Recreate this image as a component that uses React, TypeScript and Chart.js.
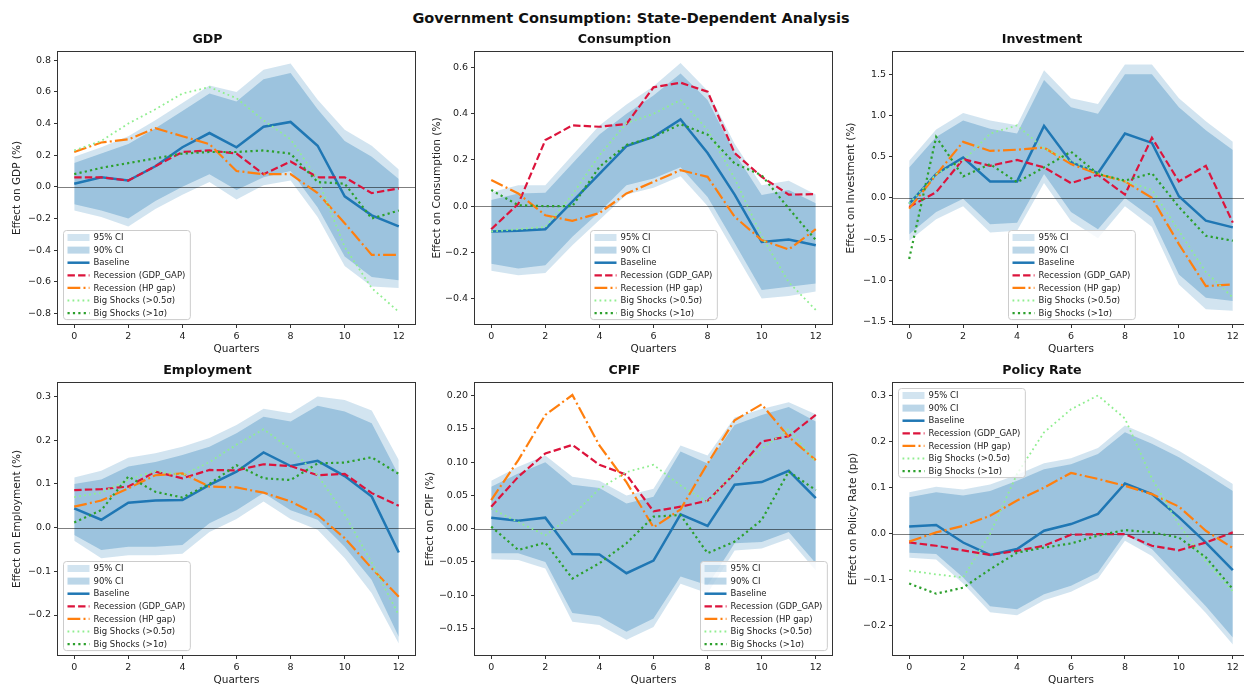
import { useEffect, useRef } from 'react';
import { Chart, registerables } from 'chart.js';

Chart.register(...registerables);
Chart.defaults.font.family = '"DejaVu Sans", sans-serif';
Chart.defaults.color = '#222';

// ---- Horizon and axis ticks ----
const QUARTERS = [0, 1, 2, 3, 4, 5, 6, 7, 8, 9, 10, 11, 12];
const QUARTER_TICKS = [0, 2, 4, 6, 8, 10, 12];
const X_MIN = -0.6;
const X_MAX = 12.6;

// ---- GDP ----
const GDP_BASELINE = [0.02, 0.06, 0.04, 0.13, 0.25, 0.34, 0.25, 0.38, 0.41, 0.26, -0.06, -0.18, -0.25];
const GDP_REC_GAP = [0.06, 0.06, 0.04, 0.13, 0.22, 0.23, 0.21, 0.08, 0.16, 0.06, 0.06, -0.04, -0.01];
const GDP_REC_HP = [0.22, 0.28, 0.30, 0.37, 0.32, 0.27, 0.10, 0.08, 0.08, -0.04, -0.23, -0.43, -0.43];
const GDP_BIG_05 = [0.23, 0.29, 0.40, 0.49, 0.59, 0.63, 0.56, 0.42, 0.30, 0.05, -0.38, -0.64, -0.79];
const GDP_BIG_1 = [0.08, 0.12, 0.15, 0.18, 0.21, 0.22, 0.22, 0.23, 0.21, 0.03, 0.02, -0.20, -0.15];
const GDP_CI90_UP = [0.15, 0.21, 0.27, 0.37, 0.48, 0.59, 0.54, 0.68, 0.72, 0.49, 0.29, 0.19, 0.05];
const GDP_CI90_LO = [-0.11, -0.15, -0.20, -0.09, 0.00, 0.08, -0.02, 0.06, 0.10, -0.13, -0.44, -0.57, -0.59];
const GDP_CI95_UP = [0.19, 0.25, 0.32, 0.42, 0.53, 0.64, 0.60, 0.74, 0.78, 0.55, 0.36, 0.26, 0.11];
const GDP_CI95_LO = [-0.15, -0.19, -0.25, -0.14, -0.05, 0.03, -0.08, 0.01, 0.04, -0.19, -0.50, -0.63, -0.64];
const GDP_TICKS = [-0.8, -0.6, -0.4, -0.2, 0, 0.2, 0.4, 0.6, 0.8];

// ---- Consumption ----
const CON_BASELINE = [-0.11, -0.107, -0.10, 0.02, 0.14, 0.26, 0.30, 0.376, 0.23, 0.05, -0.155, -0.145, -0.17];
const CON_REC_GAP = [-0.10, 0.01, 0.286, 0.35, 0.344, 0.356, 0.515, 0.535, 0.496, 0.23, 0.127, 0.05, 0.052];
const CON_REC_HP = [0.113, 0.055, -0.04, -0.064, -0.03, 0.055, 0.105, 0.156, 0.127, -0.046, -0.147, -0.188, -0.10];
const CON_BIG_05 = [-0.11, -0.10, -0.09, 0.05, 0.22, 0.36, 0.40, 0.46, 0.33, 0.12, -0.13, -0.33, -0.45];
const CON_BIG_1 = [0.07, 0.004, 0.0, 0.0, 0.17, 0.265, 0.30, 0.355, 0.31, 0.185, 0.134, -0.01, -0.147];
const CON_CI90_UP = [0.026, 0.055, 0.058, 0.185, 0.31, 0.40, 0.48, 0.575, 0.46, 0.23, 0.048, 0.07, 0.012];
const CON_CI90_LO = [-0.25, -0.27, -0.256, -0.133, -0.025, 0.09, 0.12, 0.168, 0.04, -0.16, -0.364, -0.35, -0.335];
const CON_CI95_UP = [0.06, 0.09, 0.09, 0.22, 0.35, 0.44, 0.52, 0.62, 0.50, 0.27, 0.09, 0.11, 0.05];
const CON_CI95_LO = [-0.28, -0.30, -0.29, -0.17, -0.06, 0.05, 0.08, 0.13, 0.00, -0.20, -0.40, -0.39, -0.37];
const CON_TICKS = [-0.4, -0.2, 0, 0.2, 0.4, 0.6];

// ---- Investment ----
const INV_BASELINE = [-0.073, 0.29, 0.49, 0.20, 0.20, 0.874, 0.435, 0.30, 0.78, 0.667, 0.02, -0.276, -0.358];
const INV_REC_GAP = [-0.11, 0.07, 0.47, 0.39, 0.46, 0.37, 0.18, 0.28, 0.04, 0.73, 0.20, 0.39, -0.30];
const INV_REC_HP = [-0.13, 0.28, 0.68, 0.57, 0.585, 0.61, 0.41, 0.29, 0.20, 0.0, -0.56, -1.07, -1.05];
const INV_BIG_05 = [-0.07, 0.29, 0.45, 0.78, 0.88, 0.60, 0.45, 0.30, 0.20, 0.10, -0.40, -0.90, -1.21];
const INV_BIG_1 = [-0.74, 0.74, 0.26, 0.41, 0.19, 0.37, 0.56, 0.29, 0.21, 0.30, -0.11, -0.46, -0.52];
const INV_CI90_UP = [0.37, 0.74, 0.94, 0.84, 0.78, 1.43, 1.10, 1.02, 1.50, 1.50, 1.10, 0.82, 0.58];
const INV_CI90_LO = [-0.44, -0.17, -0.01, -0.32, -0.30, 0.29, -0.17, -0.38, 0.0, -0.24, -0.93, -1.21, -1.25];
const INV_CI95_UP = [0.45, 0.83, 1.03, 0.94, 0.88, 1.55, 1.21, 1.14, 1.62, 1.62, 1.21, 0.93, 0.68];
const INV_CI95_LO = [-0.52, -0.26, -0.10, -0.42, -0.40, 0.18, -0.28, -0.49, -0.10, -0.35, -1.05, -1.35, -1.37];
const INV_TICKS = [-1.5, -1.0, -0.5, 0, 0.5, 1.0, 1.5];

// ---- Employment ----
const EMP_BASELINE = [0.044, 0.018, 0.057, 0.062, 0.063, 0.098, 0.128, 0.172, 0.141, 0.153, 0.118, 0.071, -0.057];
const EMP_REC_GAP = [0.086, 0.088, 0.094, 0.128, 0.113, 0.132, 0.131, 0.145, 0.141, 0.12, 0.123, 0.079, 0.05];
const EMP_REC_HP = [0.048, 0.062, 0.09, 0.12, 0.124, 0.094, 0.092, 0.08, 0.06, 0.029, -0.024, -0.093, -0.158];
const EMP_BIG_05 = [0.07, 0.08, 0.11, 0.13, 0.12, 0.15, 0.19, 0.225, 0.18, 0.12, 0.03, -0.08, -0.20];
const EMP_BIG_1 = [0.012, 0.04, 0.117, 0.082, 0.069, 0.10, 0.143, 0.113, 0.109, 0.147, 0.149, 0.161, 0.123];
const EMP_CI90_UP = [0.10, 0.11, 0.14, 0.15, 0.166, 0.185, 0.216, 0.254, 0.243, 0.279, 0.266, 0.239, 0.12];
const EMP_CI90_LO = [-0.017, -0.051, -0.044, -0.044, -0.04, 0.01, 0.04, 0.079, 0.04, 0.018, -0.044, -0.12, -0.25];
const EMP_CI95_UP = [0.115, 0.13, 0.16, 0.17, 0.185, 0.205, 0.235, 0.272, 0.262, 0.30, 0.292, 0.268, 0.155];
const EMP_CI95_LO = [-0.03, -0.07, -0.063, -0.063, -0.06, -0.01, 0.02, 0.06, 0.02, -0.005, -0.07, -0.15, -0.265];
const EMP_TICKS = [-0.2, -0.1, 0, 0.1, 0.2, 0.3];

// ---- CPIF ----
const CPI_BASELINE = [0.0165, 0.012, 0.0165, -0.038, -0.039, -0.067, -0.048, 0.0215, 0.004, 0.066, 0.07, 0.087, 0.046];
const CPI_REC_GAP = [0.033, 0.078, 0.113, 0.126, 0.096, 0.081, 0.026, 0.033, 0.042, 0.083, 0.131, 0.139, 0.171];
const CPI_REC_HP = [0.043, 0.103, 0.171, 0.201, 0.125, 0.07, 0.002, 0.029, 0.098, 0.163, 0.187, 0.138, 0.103];
const CPI_BIG_05 = [0.03, 0.01, -0.01, 0.02, 0.06, 0.085, 0.096, 0.065, 0.04, 0.085, 0.12, 0.15, 0.10];
const CPI_BIG_1 = [0.003, -0.032, -0.021, -0.075, -0.052, -0.022, 0.018, 0.0205, -0.037, -0.0195, 0.013, 0.086, 0.058];
const CPI_CI90_UP = [0.063, 0.083, 0.10, 0.066, 0.061, 0.038, 0.048, 0.116, 0.098, 0.156, 0.171, 0.183, 0.161];
const CPI_CI90_LO = [-0.037, -0.037, -0.05, -0.127, -0.132, -0.155, -0.135, -0.072, -0.085, -0.022, -0.02, -0.005, -0.052];
const CPI_CI95_UP = [0.072, 0.093, 0.11, 0.078, 0.072, 0.05, 0.06, 0.125, 0.11, 0.167, 0.18, 0.19, 0.172];
const CPI_CI95_LO = [-0.046, -0.047, -0.06, -0.14, -0.145, -0.167, -0.148, -0.083, -0.097, -0.033, -0.03, -0.015, -0.063];
const CPI_TICKS = [-0.15, -0.1, -0.05, 0, 0.05, 0.1, 0.15, 0.2];

// ---- Policy rate ----
const POL_BASELINE = [0.016, 0.019, -0.019, -0.046, -0.033, 0.0065, 0.021, 0.043, 0.109, 0.086, 0.036, -0.019, -0.079];
const POL_REC_GAP = [-0.019, -0.026, -0.036, -0.046, -0.037, -0.026, -0.002, -0.001, -0.001, -0.026, -0.036, -0.019, 0.003];
const POL_REC_HP = [-0.017, 0.003, 0.017, 0.039, 0.072, 0.10, 0.132, 0.119, 0.104, 0.086, 0.059, 0.0065, -0.031];
const POL_BIG_05 = [-0.08, -0.088, -0.095, 0.0, 0.13, 0.22, 0.27, 0.30, 0.25, 0.12, 0.02, -0.06, -0.125];
const POL_BIG_1 = [-0.108, -0.13, -0.117, -0.077, -0.041, -0.03, -0.021, -0.004, 0.008, 0.003, -0.008, -0.051, -0.12];
const POL_CI90_UP = [0.079, 0.09, 0.083, 0.093, 0.115, 0.14, 0.151, 0.173, 0.22, 0.195, 0.166, 0.13, 0.093];
const POL_CI90_LO = [-0.041, -0.044, -0.095, -0.157, -0.164, -0.131, -0.113, -0.084, -0.001, -0.033, -0.095, -0.157, -0.225];
const POL_CI95_UP = [0.09, 0.102, 0.096, 0.107, 0.128, 0.153, 0.164, 0.186, 0.235, 0.21, 0.18, 0.145, 0.108];
const POL_CI95_LO = [-0.052, -0.056, -0.108, -0.17, -0.177, -0.144, -0.126, -0.097, -0.015, -0.048, -0.11, -0.172, -0.24];
const POL_TICKS = [-0.2, -0.1, 0, 0.1, 0.2, 0.3];

// ---- Styling ----
const BLUE = '#1f77b4';
const RED = '#dc143c';
const ORANGE = '#ff7f0e';
const LIGHT_GREEN = '#90ee90';
const GREEN = '#2ca02c';
const CI95_FILL = 'rgba(31,119,180,0.2)';
const CI90_FILL = 'rgba(31,119,180,0.3)';

const AXIS_W = 58; // room for y ticks + y title (mirrored on the right so titles centre on the plot)
const TITLE_H = 32;
const XAXIS_H = 34;
const BASELINE_INDEX = 4;

type LegendLoc = 'lower left' | 'lower center' | 'lower right' | 'upper left';

type PanelSpec = {
  title: string;
  yLabel: string;
  baseline: number[];
  recGap: number[];
  recHp: number[];
  big05: number[];
  big1: number[];
  ci90Up: number[];
  ci90Lo: number[];
  ci95Up: number[];
  ci95Lo: number[];
  yTicks: number[];
  yMin: number;
  yMax: number;
  decimals: number;
  legendLoc: LegendLoc;
  plot: { left: number; top: number; right: number; bottom: number };
  yTitlePad: number;
};

const COLS = [
  { left: 58, right: 415 },
  { left: 475, right: 832 },
  { left: 893, right: 1249 },
];
const ROWS = [
  { top: 52, bottom: 324 },
  { top: 383, bottom: 655 },
];
const cell = (r: number, c: number) => ({ left: COLS[c].left, right: COLS[c].right, top: ROWS[r].top, bottom: ROWS[r].bottom });

const PANELS: PanelSpec[] = [
  {
    title: 'GDP', yLabel: 'Effect on GDP (%)',
    baseline: GDP_BASELINE, recGap: GDP_REC_GAP, recHp: GDP_REC_HP, big05: GDP_BIG_05, big1: GDP_BIG_1,
    ci90Up: GDP_CI90_UP, ci90Lo: GDP_CI90_LO, ci95Up: GDP_CI95_UP, ci95Lo: GDP_CI95_LO,
    yTicks: GDP_TICKS, yMin: -0.867, yMax: 0.852, decimals: 1,
    legendLoc: 'lower left', plot: cell(0, 0), yTitlePad: 10.5,
  },
  {
    title: 'Consumption', yLabel: 'Effect on Consumption (%)',
    baseline: CON_BASELINE, recGap: CON_REC_GAP, recHp: CON_REC_HP, big05: CON_BIG_05, big1: CON_BIG_1,
    ci90Up: CON_CI90_UP, ci90Lo: CON_CI90_LO, ci95Up: CON_CI95_UP, ci95Lo: CON_CI95_LO,
    yTicks: CON_TICKS, yMin: -0.511, yMax: 0.668, decimals: 1,
    legendLoc: 'lower center', plot: cell(0, 1), yTitlePad: 13.5,
  },
  {
    title: 'Investment', yLabel: 'Effect on Investment (%)',
    baseline: INV_BASELINE, recGap: INV_REC_GAP, recHp: INV_REC_HP, big05: INV_BIG_05, big1: INV_BIG_1,
    ci90Up: INV_CI90_UP, ci90Lo: INV_CI90_LO, ci95Up: INV_CI95_UP, ci95Lo: INV_CI95_LO,
    yTicks: INV_TICKS, yMin: -1.53, yMax: 1.77, decimals: 1,
    legendLoc: 'lower center', plot: cell(0, 2), yTitlePad: 10,
  },
  {
    title: 'Employment', yLabel: 'Effect on Employment (%)',
    baseline: EMP_BASELINE, recGap: EMP_REC_GAP, recHp: EMP_REC_HP, big05: EMP_BIG_05, big1: EMP_BIG_1,
    ci90Up: EMP_CI90_UP, ci90Lo: EMP_CI90_LO, ci95Up: EMP_CI95_UP, ci95Lo: EMP_CI95_LO,
    yTicks: EMP_TICKS, yMin: -0.2915, yMax: 0.331, decimals: 1,
    legendLoc: 'lower left', plot: cell(1, 0), yTitlePad: 11,
  },
  {
    title: 'CPIF', yLabel: 'Effect on CPIF (%)',
    baseline: CPI_BASELINE, recGap: CPI_REC_GAP, recHp: CPI_REC_HP, big05: CPI_BIG_05, big1: CPI_BIG_1,
    ci90Up: CPI_CI90_UP, ci90Lo: CPI_CI90_LO, ci95Up: CPI_CI95_UP, ci95Lo: CPI_CI95_LO,
    yTicks: CPI_TICKS, yMin: -0.19, yMax: 0.219, decimals: 2,
    legendLoc: 'lower right', plot: cell(1, 1), yTitlePad: 7,
  },
  {
    title: 'Policy Rate', yLabel: 'Effect on Policy Rate (pp)',
    baseline: POL_BASELINE, recGap: POL_REC_GAP, recHp: POL_REC_HP, big05: POL_BIG_05, big1: POL_BIG_1,
    ci90Up: POL_CI90_UP, ci90Lo: POL_CI90_LO, ci95Up: POL_CI95_UP, ci95Lo: POL_CI95_LO,
    yTicks: POL_TICKS, yMin: -0.263, yMax: 0.327, decimals: 1,
    legendLoc: 'upper left', plot: cell(1, 2), yTitlePad: 11.5,
  },
];

const fmtTick = (v: number, decimals: number) => v.toFixed(decimals).replace('-', '\u2212');

// Horizontal reference at zero, drawn over the bands but under the response lines
const zeroLinePlugin = {
  id: 'zeroLine',
  beforeDatasetDraw(chart: any, args: any) {
    if (args.index !== BASELINE_INDEX) return;
    const { ctx, chartArea, scales } = chart;
    const y = Math.round(scales.y.getPixelForValue(0)) + 0.5;
    ctx.save();
    ctx.strokeStyle = 'rgba(0,0,0,0.5)';
    ctx.lineWidth = 1;
    ctx.beginPath();
    ctx.moveTo(chartArea.left, y);
    ctx.lineTo(chartArea.right, y);
    ctx.stroke();
    ctx.restore();
  },
};

// Four-sided axes frame
const framePlugin = {
  id: 'axesFrame',
  afterDatasetsDraw(chart: any) {
    const { ctx, chartArea: a } = chart;
    ctx.save();
    ctx.strokeStyle = '#333';
    ctx.lineWidth = 1;
    ctx.setLineDash([]);
    const l = Math.round(a.left) - 0.5;
    const t = Math.round(a.top) - 0.5;
    ctx.strokeRect(l, t, Math.round(a.right) - Math.round(a.left) + 1, Math.round(a.bottom) - Math.round(a.top) + 1);
    ctx.restore();
  },
};

// In-axes legend box
const panelLegendPlugin = {
  id: 'panelLegend',
  afterDatasetsDraw(chart: any, _args: any, opts: any) {
    const { ctx, chartArea: a } = chart;
    const items = chart.data.datasets.filter((d: any) => d.label);
    const fontSize = 8.5;
    const rowH = 12.6;
    ctx.save();
    ctx.font = `${fontSize}px "DejaVu Sans", sans-serif`;
    const textW = Math.max(...items.map((d: any) => ctx.measureText(d.label).width));
    const w = 30 + textW + 5;
    const h = 7 + (items.length - 1) * rowH + 6.5;
    const pad = 5;
    let x = a.left + pad;
    let y = a.bottom - pad - h;
    if (opts.loc === 'lower center') x = (a.left + a.right) / 2 - w / 2;
    if (opts.loc === 'lower right') x = a.right - pad - w;
    if (opts.loc === 'upper left') y = a.top + pad;
    x = Math.round(x) + 0.5;
    y = Math.round(y) + 0.5;

    ctx.beginPath();
    if (ctx.roundRect) ctx.roundRect(x, y, w, h, 3);
    else ctx.rect(x, y, w, h);
    ctx.fillStyle = 'rgba(255,255,255,0.8)';
    ctx.fill();
    ctx.strokeStyle = '#cccccc';
    ctx.lineWidth = 1;
    ctx.stroke();

    items.forEach((d: any, k: number) => {
      const cy = y + 7 + k * rowH;
      const hx = x + 4;
      if (d.isBand) {
        ctx.fillStyle = d.backgroundColor;
        ctx.fillRect(hx, cy - 3.5, 22, 7);
      } else {
        ctx.save();
        ctx.strokeStyle = d.borderColor;
        ctx.lineWidth = d.borderWidth;
        ctx.setLineDash(d.borderDash || []);
        ctx.beginPath();
        ctx.moveTo(hx, cy);
        ctx.lineTo(hx + 22, cy);
        ctx.stroke();
        ctx.restore();
      }
      ctx.fillStyle = '#222';
      ctx.textBaseline = 'middle';
      ctx.textAlign = 'left';
      ctx.fillText(d.label, x + 30, cy + 0.5);
    });
    ctx.restore();
  },
};

function buildConfig(spec: PanelSpec): any {
  const pts = (arr: number[]) => QUARTERS.map((q, i) => ({ x: q, y: arr[i] }));
  const band = (label: string, arr: number[], color: string, fill: any, order: number) => ({
    label, isBand: true, data: pts(arr), borderColor: 'transparent', borderWidth: 0,
    backgroundColor: color, pointRadius: 0, fill, order,
  });
  const line = (label: string, arr: number[], color: string, width: number, dash: number[], order: number) => ({
    label, data: pts(arr), borderColor: color, backgroundColor: color, borderWidth: width,
    borderDash: dash, borderCapStyle: 'butt', pointRadius: 0, fill: false, tension: 0, order,
  });

  const datasets = [
    band('95% CI', spec.ci95Up, CI95_FILL, '+1', 12),
    band('', spec.ci95Lo, CI95_FILL, false, 12),
    band('90% CI', spec.ci90Up, CI90_FILL, '+1', 11),
    band('', spec.ci90Lo, CI90_FILL, false, 11),
    line('Baseline', spec.baseline, BLUE, 2.5, [], 5),
    line('Recession (GDP_GAP)', spec.recGap, RED, 2.2, [7.4, 3.2], 4),
    line('Recession (HP gap)', spec.recHp, ORANGE, 2.2, [12.8, 3.2, 2, 3.2], 3),
    line('Big Shocks (>0.5\u03c3)', spec.big05, LIGHT_GREEN, 1.8, [1.8, 3.2], 2),
    line('Big Shocks (>1\u03c3)', spec.big1, GREEN, 2.2, [2.2, 3.2], 1),
  ];

  const tickGrid = { display: true, drawOnChartArea: false, drawTicks: true, tickLength: 4, color: '#333', lineWidth: 1 };

  return {
    type: 'line',
    data: { datasets },
    options: {
      animation: false,
      responsive: false,
      devicePixelRatio: 1,
      events: [],
      layout: { padding: { left: 0, right: AXIS_W, top: 0, bottom: 0 } },
      plugins: {
        legend: { display: false },
        tooltip: { enabled: false },
        title: {
          display: true,
          text: spec.title,
          color: '#111',
          font: { size: 12.6, weight: 'bold', lineHeight: 1.2 },
          padding: { top: TITLE_H - 15.1 - 4.5, bottom: 4.5 },
        },
        panelLegend: { loc: spec.legendLoc },
      },
      scales: {
        x: {
          type: 'linear',
          min: X_MIN,
          max: X_MAX,
          afterBuildTicks: (s: any) => { s.ticks = QUARTER_TICKS.map((v) => ({ value: v })); },
          afterFit: (s: any) => { s.height = XAXIS_H; },
          ticks: { autoSkip: false, maxRotation: 0, padding: 3, color: '#222', font: { size: 9.5 }, callback: (v: any) => String(v) },
          grid: tickGrid,
          border: { display: false },
          title: { display: true, text: 'Quarters', color: '#222', font: { size: 10.5, lineHeight: 1.2 }, padding: { top: 0, bottom: 2 } },
        },
        y: {
          type: 'linear',
          min: spec.yMin,
          max: spec.yMax,
          afterBuildTicks: (s: any) => { s.ticks = spec.yTicks.map((v) => ({ value: v })); },
          afterFit: (s: any) => { s.width = AXIS_W; },
          ticks: { autoSkip: false, padding: 3, color: '#222', font: { size: 9.5 }, callback: (v: any) => fmtTick(Number(v), spec.decimals) },
          grid: tickGrid,
          border: { display: false },
          title: { display: true, text: spec.yLabel, color: '#222', font: { size: 10.5, lineHeight: 1.2 }, padding: { top: spec.yTitlePad, bottom: 0 } },
        },
      },
    },
    plugins: [zeroLinePlugin, framePlugin, panelLegendPlugin],
  };
}

function Panel({ spec }: { spec: PanelSpec }) {
  const ref = useRef<HTMLCanvasElement>(null);
  const { left, top, right, bottom } = spec.plot;
  const w = right - left + 2 * AXIS_W;
  const h = bottom - top + TITLE_H + XAXIS_H;

  useEffect(() => {
    if (!ref.current) return;
    const chart = new Chart(ref.current, buildConfig(spec));
    return () => chart.destroy();
  }, [spec]);

  return (
    <canvas
      ref={ref}
      width={w}
      height={h}
      style={{ position: 'absolute', left: left - AXIS_W, top: top - TITLE_H, width: w, height: h }}
    />
  );
}

export default function App() {
  return (
    <div
      style={{
        position: 'fixed', left: 0, top: 0, width: 1244, height: 687,
        overflow: 'hidden', background: '#fff', fontFamily: '"DejaVu Sans", sans-serif',
      }}
    >
      <div
        style={{
          position: 'absolute', left: 0, top: 9, width: 1262, textAlign: 'center',
          fontSize: 14.5, lineHeight: '18px', fontWeight: 'bold', color: '#111',
        }}
      >
        Government Consumption: State-Dependent Analysis
      </div>
      {PANELS.map((p) => (
        <Panel key={p.title} spec={p} />
      ))}
    </div>
  );
}
